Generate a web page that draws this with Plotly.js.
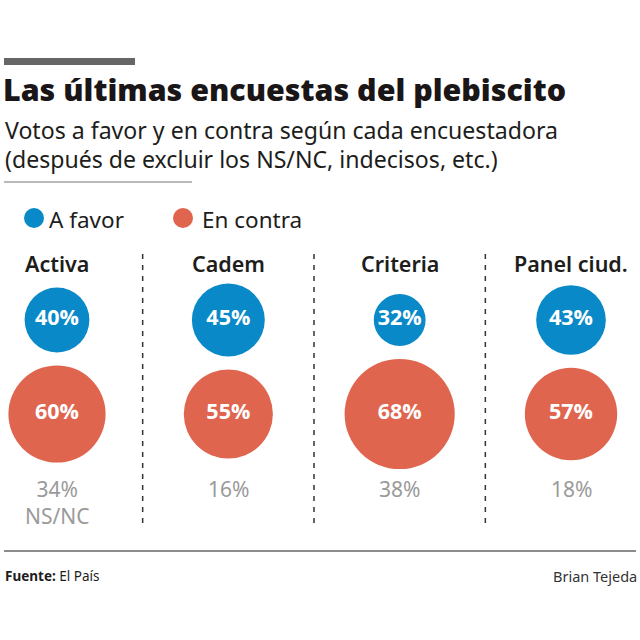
<!DOCTYPE html>
<html>
<head>
<meta charset="utf-8">
<script src="https://cdn.plot.ly/plotly-3.0.1.min.js"></script>
<style>html,body{margin:0;padding:0;background:#fff;}#chart{width:640px;height:640px;}</style>
</head>
<body>
<div id="chart"></div>
<script>
// ---- Data ----
const encuestadoras = ['Activa', 'Cadem', 'Criteria', 'Panel ciud.'];
const aFavor = [40, 45, 32, 43];
const enContra = [60, 55, 68, 57];
const nsnc = [34, 16, 38, 18];
const nsncNota = ['NS/NC', '', '', ''];
const filas = ['A favor', 'En contra'];
const subtitulo = ['Votos a favor y en contra según cada encuestadora',
                   '(después de excluir los NS/NC, indecisos, etc.)'];

// ---- Styling ----
const AZUL = '#0a89c9';
const NARANJA = '#e0654f';
const GRIS = '#9a9a9a';
const TXT = '#1d1d1b';
const W = 640, H = 640;
const px = v => v / W;
const py = v => 1 - v / H;
const SIZEREF = 1 / 1.62;

const tFavor = {
  type: 'scatter', mode: 'markers+text', name: 'A favor',
  x: encuestadoras, y: encuestadoras.map(() => filas[0]),
  text: aFavor.map(v => v + '%'), textposition: 'middle center',
  textfont: {family: 'Open Sans', size: 21.5, color: '#fff', weight: 700},
  marker: {size: aFavor, sizemode: 'diameter', sizeref: SIZEREF, color: AZUL, opacity: 1, line: {width: 0}},
  hoverinfo: 'skip', cliponaxis: false, showlegend: false
};
const tContra = {
  type: 'scatter', mode: 'markers+text', name: 'En contra',
  x: encuestadoras, y: encuestadoras.map(() => filas[1]),
  text: enContra.map(v => v + '%'), textposition: 'middle center',
  textfont: {family: 'Open Sans', size: 21.5, color: '#fff', weight: 700},
  marker: {size: enContra, sizemode: 'diameter', sizeref: SIZEREF, color: NARANJA, opacity: 1, line: {width: 0}},
  hoverinfo: 'skip', cliponaxis: false, showlegend: false
};

const annotations = [];
// column headers
encuestadoras.forEach(c => annotations.push({
  x: c, xref: 'x', y: py(263), yref: 'paper', text: c, showarrow: false,
  xanchor: 'center', yanchor: 'middle',
  font: {family: 'Noto Sans', size: 21.5, color: TXT, weight: 600}
}));
// NS/NC labels
encuestadoras.forEach((c, i) => annotations.push({
  x: c, xref: 'x', y: py(473), yref: 'paper',
  text: nsnc[i] + '%' + (nsncNota[i] ? '<br>' + nsncNota[i] : ''),
  showarrow: false, xanchor: 'center', yanchor: 'top', align: 'center',
  font: {family: 'Noto Sans', size: 21, color: GRIS}
}));
// subtitle (two lines)
[130, 159].forEach((yy, i) => annotations.push({
  x: px(3), xref: 'paper', y: py(yy), yref: 'paper', xanchor: 'left', yanchor: 'middle', align: 'left',
  text: subtitulo[i], showarrow: false, font: {family: 'Noto Sans', size: 23.1, color: TXT}
}));
// legend labels
annotations.push({x: px(47), xref: 'paper', y: py(219), yref: 'paper', xanchor: 'left', yanchor: 'middle',
  text: 'A favor', showarrow: false, font: {family: 'Noto Sans', size: 22.5, color: TXT}});
annotations.push({x: px(200), xref: 'paper', y: py(219), yref: 'paper', xanchor: 'left', yanchor: 'middle',
  text: 'En contra', showarrow: false, font: {family: 'Noto Sans', size: 22.5, color: TXT}});
// footer
annotations.push({x: px(3), xref: 'paper', y: py(576), yref: 'paper', xanchor: 'left', yanchor: 'middle',
  text: '<b>Fuente:</b> El País', showarrow: false, font: {family: 'Noto Sans', size: 13.5, color: TXT}});
annotations.push({x: px(639), xref: 'paper', y: py(576), yref: 'paper', xanchor: 'right', yanchor: 'middle',
  text: 'Brian Tejeda', showarrow: false, font: {family: 'Noto Sans', size: 14.5, color: '#333'}});

const shapes = [
  // top grey bar
  {type: 'rect', xref: 'paper', yref: 'paper', x0: px(4), x1: px(135), y0: py(58), y1: py(65), fillcolor: '#666', line: {width: 0}},
  // rule under subtitle
  {type: 'line', xref: 'paper', yref: 'paper', x0: px(4), x1: px(192), y0: py(182), y1: py(182), line: {color: '#777', width: 1.2}},
  // legend dots
  {type: 'circle', xref: 'paper', yref: 'paper', x0: px(24), x1: px(44), y0: py(208), y1: py(228), fillcolor: AZUL, line: {width: 0}},
  {type: 'circle', xref: 'paper', yref: 'paper', x0: px(173), x1: px(193), y0: py(208), y1: py(228), fillcolor: NARANJA, line: {width: 0}},
  // footer rule
  {type: 'line', xref: 'paper', yref: 'paper', x0: px(4), x1: px(636), y0: py(551), y1: py(551), line: {color: '#666', width: 1.5}}
];
// dashed separators between columns
[0.5, 1.5, 2.5].forEach(x => shapes.push({
  type: 'line', xref: 'x', yref: 'paper', x0: x, x1: x, y0: py(254), y1: py(526),
  line: {color: '#333', width: 1.5, dash: '5px,6px'}
}));

const layout = {
  width: W, height: H,
  margin: {l: 0, r: 0, t: 0, b: 0, pad: 0},
  paper_bgcolor: '#fff', plot_bgcolor: '#fff',
  showlegend: false,
  title: {
    text: 'Las últimas encuestas del plebiscito',
    x: px(3), xanchor: 'left', xref: 'paper', y: py(90), yanchor: 'middle', yref: 'paper',
    font: {family: 'Noto Sans', size: 30.4, color: '#1a1617', weight: 900}
  },
  xaxis: {
    type: 'category', categoryorder: 'array', categoryarray: encuestadoras,
    range: [-0.3327, 3.4027], visible: false, fixedrange: true
  },
  yaxis: {
    type: 'category', categoryorder: 'array', categoryarray: filas,
    range: [3.404, -3.404], visible: false, fixedrange: true
  },
  annotations: annotations,
  shapes: shapes
};

Plotly.newPlot('chart', [tFavor, tContra], layout, {displayModeBar: false, staticPlot: true});
</script>
</body>
</html>
